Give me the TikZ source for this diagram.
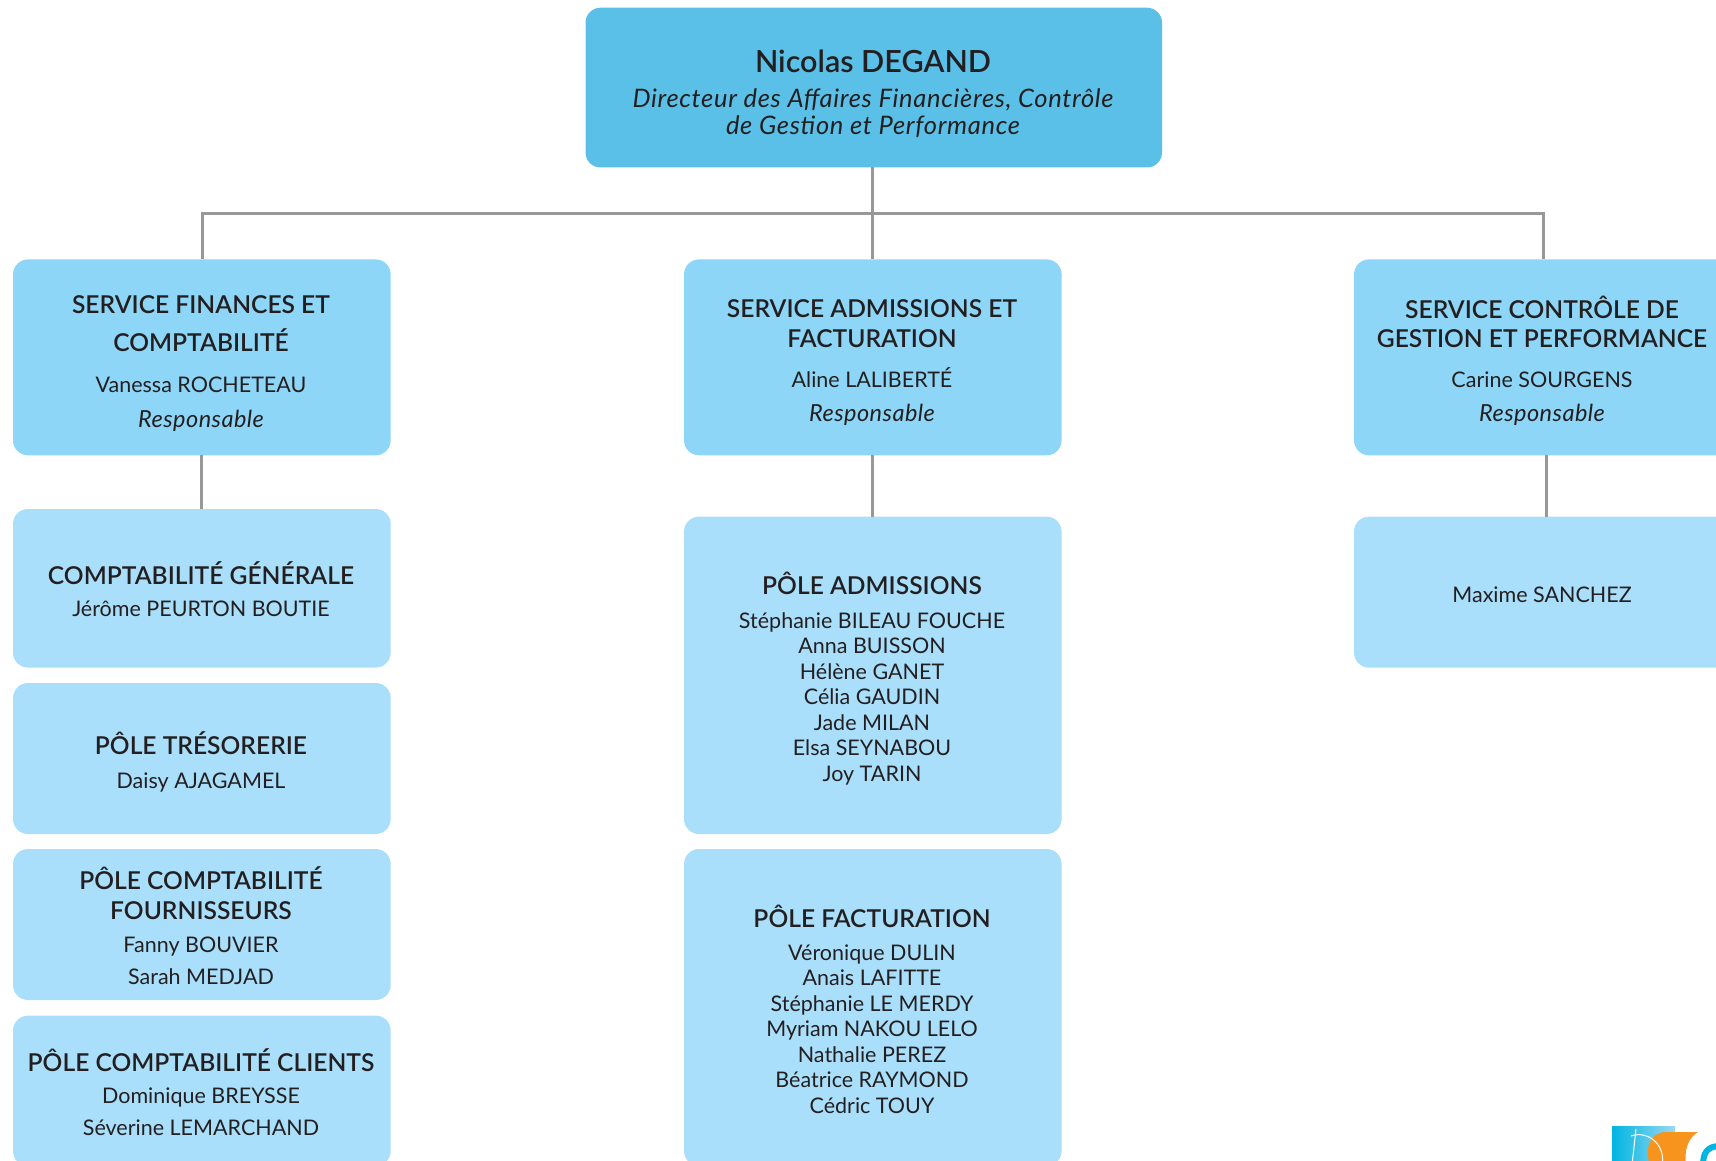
\documentclass[tikz,border=0pt]{standalone}
\usepackage{fontspec}
\setmainfont{Lato}
\newfontfamily\headfam{Lato Semibold}
\newfontfamily\ritalfam[LetterSpace=2]{Lato Italic}
\newfontfamily\titalfam[LetterSpace=2.7]{Lato Italic}
\definecolor{topblue}{HTML}{5BC0E8}
\definecolor{svcblue}{HTML}{8ED6F7}
\definecolor{subblue}{HTML}{AADFFB}
\definecolor{linkgrey}{HTML}{989898}
\definecolor{inkdark}{HTML}{231F20}
\definecolor{logoblue}{HTML}{00B5E2}
\definecolor{logolight}{HTML}{9AD8F0}
\definecolor{logoorange}{HTML}{F7941E}
\newcommand{\bx}[6]{\node[#1,minimum width={#5-#3},minimum height={#6-#4}] (#2) at ({(#3+#5)/2},{(#4+#6)/2}) {};}
\newcommand{\resp}{\fontsize{23.5}{25.5}\selectfont\ritalfam Responsable}
\tikzset{
 card/.style={inner sep=0pt,outer sep=0pt,rounded corners=15pt,draw=none},
 topcard/.style={card,fill=topblue},
 svccard/.style={card,fill=svcblue},
 subcard/.style={card,fill=subblue},
 link/.style={draw=linkgrey,line width=3pt},
 txt/.style={inner sep=0pt,outer sep=0pt,align=center,text=inkdark},
 bigf/.style={font=\fontsize{30.5}{36}\headfam},
 topsub/.style={font=\fontsize{25.5}{27.5}\titalfam},
 head/.style={font=\fontsize{24.6}{29.5}\headfam},
 body/.style={font=\fontsize{21.5}{25.5}\selectfont},
}
\begin{document}
\begin{tikzpicture}[x=1pt,y=-1pt]
\clip (0,0) rectangle (1716,1161);
\bx{topcard}{top}{585.5}{7.7}{1162}{167.5}
\bx{svccard}{sa}{13}{259.4}{390.7}{455.3}
\bx{svccard}{sb}{684}{259.4}{1061.6}{455.3}
\bx{svccard}{sc}{1354}{259.4}{1731.7}{455.3}
\bx{subcard}{aa}{13}{509}{390.7}{667.6}
\bx{subcard}{ab}{13}{683}{390.7}{834}
\bx{subcard}{ac}{13}{849}{390.7}{1000}
\bx{subcard}{ad}{13}{1015.6}{390.7}{1166}
\bx{subcard}{ba}{684}{516.6}{1061.6}{834}
\bx{subcard}{bb}{684}{849}{1061.6}{1166}
\bx{subcard}{ca}{1354}{516.6}{1731.7}{667.6}
\coordinate (bus) at (873,213.4);
\draw[link] (sb.north |- top.south) -- (sb.north);
\draw[link] ([xshift=1pt]sa.north) |- (bus) -| ([xshift=1pt]sc.north);
\draw[link] (sa.south) -- (aa.north);
\draw[link] (sb.south) -- (ba.north);
\draw[link] ([xshift=4pt]sc.south) -- ([xshift=4pt]ca.north);
% texts
\node[txt,bigf] (tn) at (873,61) {Nicolas DEGAND};
\node[txt,topsub] (tt) at (873,113) {Directeur des Affaires Financières, Contrôle\\de Gestion et Performance};
\node[txt,head] (sah) at (201,324) {SERVICE FINANCES ET\\[8.5pt]COMPTABILITÉ};
\node[txt,body] (san) at (201,404) {Vanessa ROCHETEAU\\[9pt]\resp};
\node[txt,head] (sbh) at (872,323.5) {SERVICE ADMISSIONS ET\\FACTURATION};
\node[txt,body] (sbn) at (872,396.7) {Aline LALIBERTÉ\\[9pt]\resp};
\node[txt,head] (sch) at (1542,322) {SERVICE CONTRÔLE DE\\GESTION ET PERFORMANCE};
\node[txt,body] (scn) at (1542,398.6) {Carine SOURGENS\\[9pt]\resp};
\node[txt,head] (aah) at (201,573.5) {COMPTABILITÉ GÉNÉRALE};
\node[txt,body] (aan) at (201,609.2) {Jérôme PEURTON BOUTIE};
\node[txt,head] (abh) at (201,743) {PÔLE TRÉSORERIE};
\node[txt,body] (abn) at (201,782) {Daisy AJAGAMEL};
\node[txt,head] (ach) at (201,893) {PÔLE COMPTABILITÉ\\FOURNISSEURS};
\node[txt,body] (acn) at (201,961) {Fanny BOUVIER\\[7pt]Sarah MEDJAD};
\node[txt,head] (adh) at (201,1060.6) {PÔLE COMPTABILITÉ CLIENTS};
\node[txt,body] (adn) at (201,1111.5) {Dominique BREYSSE\\[7pt]Séverine LEMARCHAND};
\node[txt,head] (bah) at (872,583.4) {PÔLE ADMISSIONS};
\node[txt,body] (ban) at (872,698.8) {Stéphanie BILEAU FOUCHE\\Anna BUISSON\\Hélène GANET\\Célia GAUDIN\\Jade MILAN\\Elsa SEYNABOU\\Joy TARIN};
\node[txt,head] (bbh) at (872,916) {PÔLE FACTURATION};
\node[txt,body] (bbn) at (872,1029) {Véronique DULIN\\Anais LAFITTE\\Stéphanie LE MERDY\\Myriam NAKOU LELO\\Nathalie PEREZ\\Béatrice RAYMOND\\Cédric TOUY};
\node[txt,body] (can) at (1542,595.2) {Maxime SANCHEZ};
% logo
\shade[left color=logoblue,right color=logolight] (1612,1126) rectangle (1675,1165);
\fill[logoorange] (1650,1165) .. controls (1644,1148) and (1650,1133) .. (1665,1132) -- (1698,1132) .. controls (1688,1138) and (1684,1150) .. (1686,1165) -- cycle;
\draw[white,line width=1pt] (1636,1129) -- (1632,1165);
\draw[white,line width=1pt] (1631,1136) .. controls (1648,1130) and (1666,1145) .. (1662,1165);
\draw[logoblue,line width=6pt] (1703,1165) .. controls (1703,1152) and (1708,1146) .. (1720,1146);
\end{tikzpicture}
\end{document}
